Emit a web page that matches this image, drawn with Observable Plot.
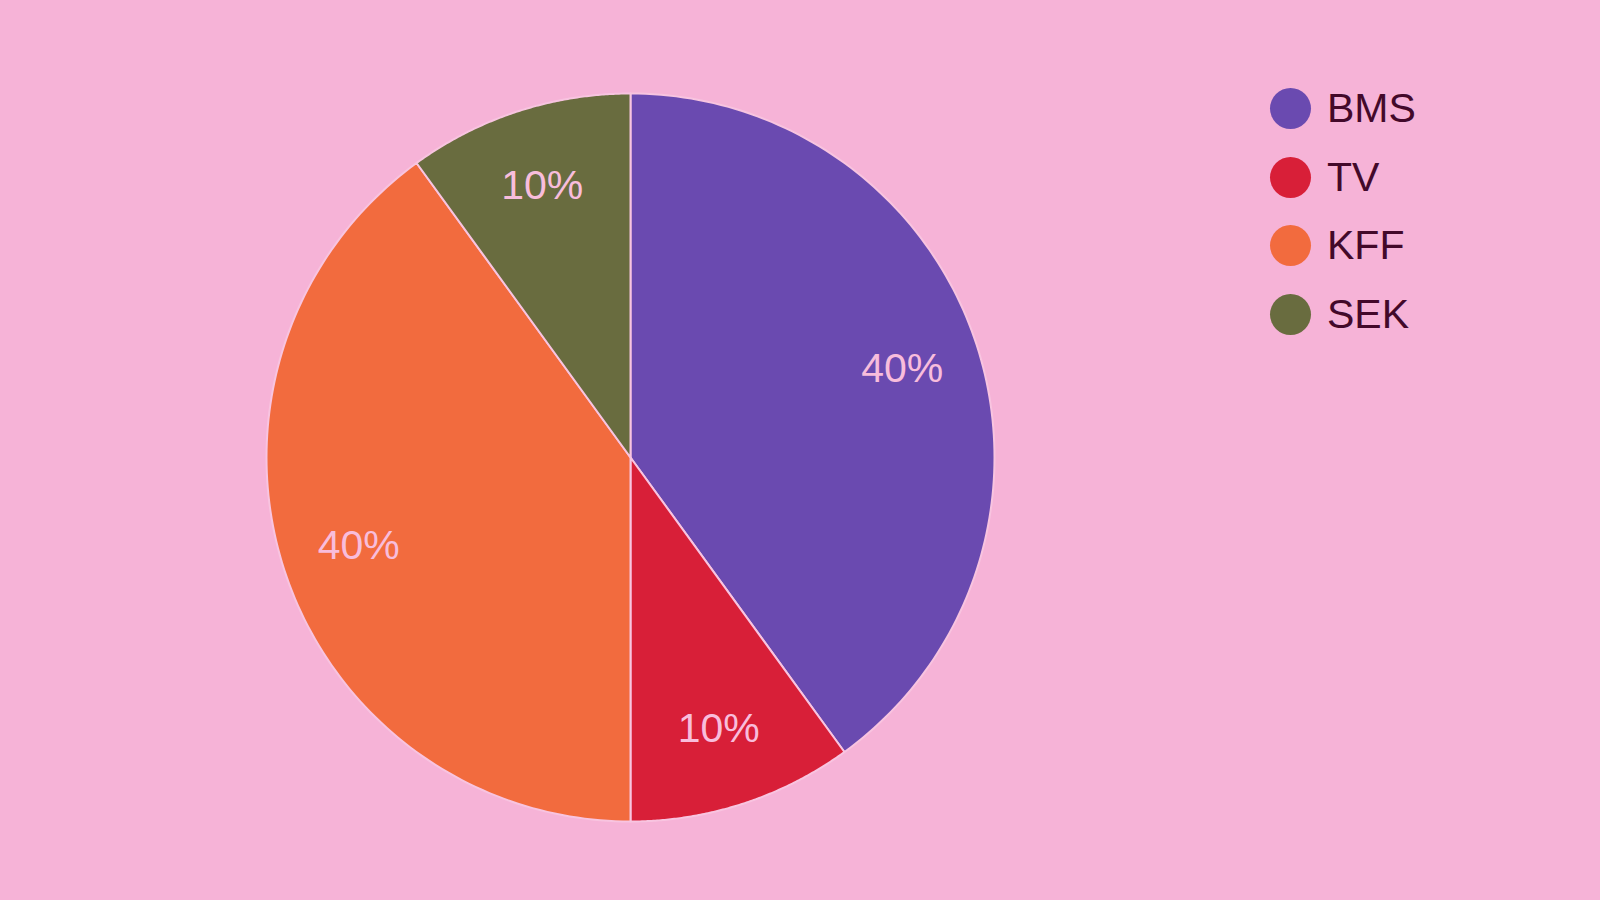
<!DOCTYPE html>
<html>
<head>
<meta charset="utf-8">
<script src="https://cdn.jsdelivr.net/npm/d3@7"></script>
<script src="https://cdn.jsdelivr.net/npm/@observablehq/plot@0.6"></script>
<style>
  html, body { margin: 0; padding: 0; background: #f6b3d7; }
  #wrap { position: relative; width: 1600px; height: 900px; overflow: hidden; }
  #legend { position: absolute; left: 1270px; top: 74px; font-family: "Liberation Sans", Arial, Helvetica, sans-serif; }
  .item { display: flex; align-items: center; height: 68.7px; }
  .sw { width: 41px; height: 41px; border-radius: 50%; margin-right: 16px; flex: none; }
  .lab { font-size: 41px; color: #43092a; line-height: 41px; }
</style>
</head>
<body>
<div id="wrap"><div id="chart"></div><div id="legend"></div></div>
<script>
const categories = ["BMS", "TV", "KFF", "SEK"];
const values = [40, 10, 40, 10];
const colors = ["#6a4ab0", "#d81f38", "#f26b3e", "#696c3f"];
const labels = ["40%", "10%", "40%", "10%"];

const arcs = d3.pie().sort(null).value(d => d)(values);

// slice outlines as polygons in unit-circle coordinates
const slices = [];
arcs.forEach((a, i) => {
  const n = 120;
  slices.push({cat: categories[i], x: 0, y: 0});
  for (let k = 0; k <= n; k++) {
    const t = a.startAngle + (a.endAngle - a.startAngle) * k / n;
    slices.push({cat: categories[i], x: Math.sin(t), y: Math.cos(t)});
  }
  slices.push({cat: categories[i], x: 0, y: 0});
});
const labelR = 0.785;
const labelPts = arcs.map((a, i) => {
  const m = (a.startAngle + a.endAngle) / 2;
  return {cat: categories[i], text: labels[i], x: labelR * Math.sin(m), y: labelR * Math.cos(m)};
});

const chart = Plot.plot({
  width: 1600,
  height: 900,
  margin: 0,
  style: {background: "#f6b3d7", fontFamily: "'Liberation Sans', Arial, Helvetica, sans-serif"},
  x: {domain: [-1, 1], range: [266, 994], axis: null},
  y: {domain: [-1, 1], range: [821, 93], axis: null},
  color: {domain: categories, range: colors},
  marks: [
    Plot.line(slices, {x: "x", y: "y", z: "cat", fill: "cat", stroke: "#f8c4e0", strokeWidth: 2, curve: "linear-closed"}),
    Plot.text(labelPts, {x: "x", y: "y", text: "text", fill: "#f8bddc", fontSize: 41})
  ]
});
document.getElementById("chart").appendChild(chart);

const legend = d3.select("#legend");
categories.forEach((c, i) => {
  const row = legend.append("div").attr("class", "item");
  row.append("div").attr("class", "sw").style("background", colors[i]);
  row.append("div").attr("class", "lab").text(c);
});
</script>
</body>
</html>
